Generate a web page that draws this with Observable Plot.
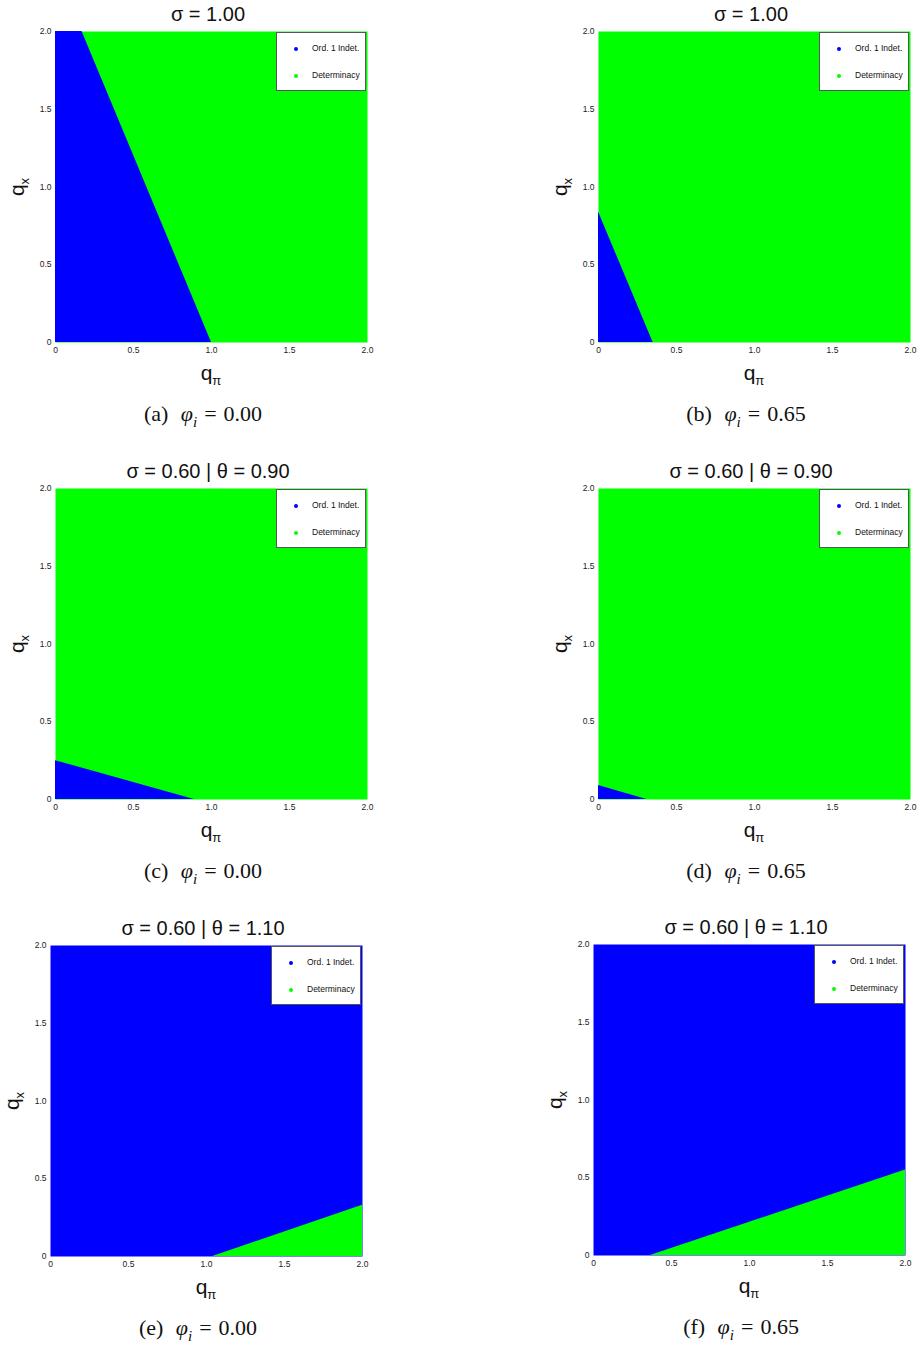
<!DOCTYPE html>
<html>
<head>
<meta charset="utf-8">
<script src="https://cdn.jsdelivr.net/npm/d3@7"></script>
<script src="https://cdn.jsdelivr.net/npm/@observablehq/plot@0.6"></script>
<style>
  html, body { margin: 0; padding: 0; background: #fff; }
  #root { position: relative; width: 917px; height: 1348px; overflow: hidden; font-family: "Liberation Sans", Arial, sans-serif; }
  .abs { position: absolute; }
  .title { font-size: 20px; color: #111; white-space: nowrap; transform: translate(-50%, -50%); }
  .xlab { font-size: 21px; color: #111; white-space: nowrap; transform: translate(-50%, -50%); }
  .xlab sub, .ylab sub { font-size: 13px; vertical-align: -5px; }
  .ylab { font-size: 21px; color: #111; white-space: nowrap; transform: translate(-50%, -50%) rotate(-90deg); }
  .cap { font-family: "Liberation Serif", "DejaVu Serif", serif; font-size: 22px; color: #111; white-space: nowrap; transform: translate(-50%, -50%); }
  .cap i sub { font-size: 15px; }
  .cap .sp { display: inline-block; width: 7px; }
  .legend { background: #fff; border: 1px solid #555; box-sizing: border-box; font-size: 8.5px; color: #111; }
  .legend .row { position: absolute; left: 0; white-space: nowrap; }
  .legend .dot { position: absolute; width: 4px; height: 4px; border-radius: 50%; }
</style>
</head>
<body>
<div id="root"></div>
<script>
// ---- data ----
const axisTicks = [0, 0.5, 1.0, 1.5, 2.0];
const titles = ["σ = 1.00", "σ = 1.00", "σ = 0.60 | θ = 0.90", "σ = 0.60 | θ = 0.90", "σ = 0.60 | θ = 1.10", "σ = 0.60 | θ = 1.10"];
const captionLetters = ["(a)", "(b)", "(c)", "(d)", "(e)", "(f)"];
const phiValues = ["0.00", "0.65", "0.00", "0.65", "0.00", "0.65"];
const regimes = ["Ord. 1 Indet.", "Determinacy"];
// background regime of each panel, and regime of the polygon drawn over it
const backgroundRegime = ["Determinacy", "Determinacy", "Determinacy", "Determinacy", "Ord. 1 Indet.", "Ord. 1 Indet."];
const overlayRegime = ["Ord. 1 Indet.", "Ord. 1 Indet.", "Ord. 1 Indet.", "Ord. 1 Indet.", "Determinacy", "Determinacy"];
// boundary of the overlay region (area down to q_x = 0)
const boundaryQpi = [[0, 0.17, 1.0], [0, 0.35], [0, 0.89], [0, 0.31], [1.04, 2.0], [0.365, 2.0]];
const boundaryQx  = [[2.0, 2.0, 0],  [0.84, 0],  [0.25, 0],  [0.09, 0],  [0, 0.33],    [0, 0.55]];

// ---- presentation ----
const regimeColors = {"Ord. 1 Indet.": "#0000ff", "Determinacy": "#00ff00"};
const panelPos = [ // plot-area left/top
  [55, 31], [598, 31], [55, 488], [598, 488], [50, 945], [593, 944]
];
const PW = 312, PH = 311;
const ML = 40, MR = 20, MT = 10, MB = 25;
const root = document.getElementById("root");
const fmt = d => d === 0 ? "0" : d.toFixed(1);

function el(tag, cls, html, x, y) {
  const e = document.createElement(tag);
  e.className = cls;
  e.innerHTML = html;
  e.style.left = x + "px";
  e.style.top = y + "px";
  root.appendChild(e);
  return e;
}

titles.forEach((t, i) => {
  const [L, T] = panelPos[i];
  const pts = boundaryQpi[i].map((x, j) => ({qpi: x, qx: boundaryQx[i][j]}));
  const chart = Plot.plot({
    width: ML + PW + MR,
    height: MT + PH + MB,
    marginLeft: ML, marginRight: MR, marginTop: MT, marginBottom: MB,
    style: {fontFamily: "Liberation Sans, Arial, sans-serif", fontSize: "8.5px", color: "#222", background: "transparent"},
    x: {domain: [0, 2], label: null},
    y: {domain: [0, 2], label: null},
    marks: [
      Plot.frame({fill: regimeColors[backgroundRegime[i]]}),
      Plot.areaY(pts, {x: "qpi", y: "qx", fill: regimeColors[overlayRegime[i]]}),
      Plot.axisX({ticks: axisTicks, tickFormat: fmt, tickSize: 0, tickPadding: 4, label: null}),
      Plot.axisY({ticks: axisTicks, tickFormat: fmt, tickSize: 0, tickPadding: 4, label: null})
    ]
  });
  chart.style.position = "absolute";
  chart.style.left = (L - ML) + "px";
  chart.style.top = (T - MT) + "px";
  root.appendChild(chart);

  const cx = L + PW / 2;
  el("div", "abs title", t, cx - 3, T - 17);
  el("div", "abs xlab", "q<sub>π</sub>", cx, T + PH + 32);
  el("div", "abs ylab", "q<sub>x</sub>", L - 37, T + PH / 2);
  el("div", "abs cap", captionLetters[i] + '<span class="sp"></span> <i>φ<sub>i</sub></i><span class="sp"></span>=<span class="sp"></span>' + phiValues[i], cx - 8, T + PH + 74);

  // legend
  const lg = el("div", "abs legend", "", L + PW - 91, T + 1);
  lg.style.width = "90px";
  lg.style.height = "59px";
  regimes.forEach((r, j) => {
    const dot = document.createElement("div");
    dot.className = "dot";
    dot.style.background = regimeColors[r];
    dot.style.left = "17px";
    dot.style.top = (14 + j * 27) + "px";
    lg.appendChild(dot);
    const row = document.createElement("div");
    row.className = "row";
    row.textContent = r;
    row.style.left = "35px";
    row.style.top = (10 + j * 27) + "px";
    lg.appendChild(row);
  });
});
</script>
</body>
</html>
